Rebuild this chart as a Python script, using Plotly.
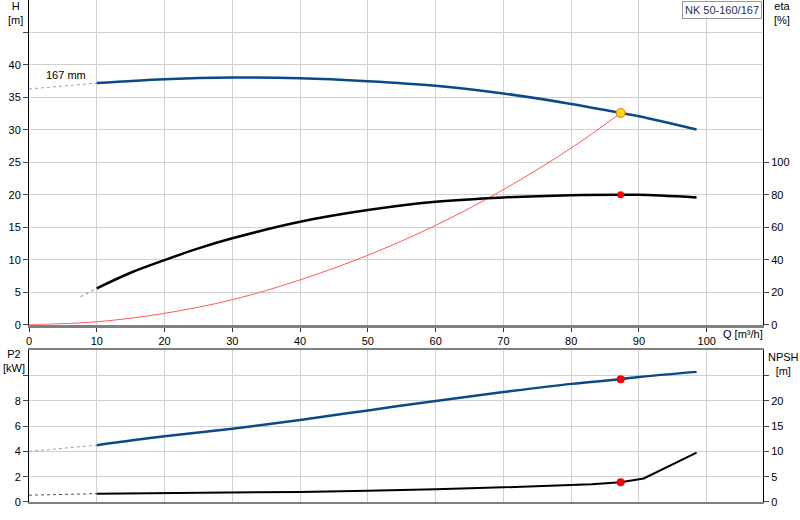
import plotly.graph_objects as go

# Q-H curve, 167 mm impeller
q_head = [10, 20, 30, 40, 50, 60, 70, 80, 87.3, 90, 98.5]
head = [37.2, 37.8, 38.05, 37.95, 37.5, 36.8, 35.6, 34.0, 32.6, 32.1, 30.05]
q_head_ext = [0, 10]
head_ext = [36.3, 37.2]

# efficiency
q_eta = [10, 15, 20, 25, 30, 40, 50, 60, 70, 80, 87.3, 90, 98.5]
eta = [22.4, 32.0, 39.8, 47.0, 53.2, 63.4, 70.6, 75.7, 78.4, 79.8, 80.1, 80.0, 78.4]
q_eta_ext = [7.6, 10]
eta_ext = [17.2, 22.4]

# system curve up to duty point
q_sys = [0, 10, 20, 30, 40, 50, 60, 70, 80, 87.3]
h_sys = [0, 0.45, 1.75, 3.85, 6.9, 10.7, 15.3, 20.8, 27.2, 32.6]

# power P2
q_p2 = [10, 20, 30, 40, 50, 60, 70, 80, 87.3, 90, 98.5]
p2 = [4.5, 5.2, 5.8, 6.5, 7.25, 8.0, 8.7, 9.35, 9.72, 9.9, 10.3]
q_p2_ext = [0, 10]
p2_ext = [4.0, 4.5]

# NPSH
q_npsh = [10, 20, 30, 40, 50, 60, 70, 80, 83, 87.3, 90.7, 98.5]
npsh = [1.65, 1.75, 1.85, 2.0, 2.25, 2.5, 2.9, 3.25, 3.5, 3.9, 4.65, 9.75]
q_npsh_ext = [0, 10]
npsh_ext = [1.35, 1.65]

duty_q = 87.3
duty_h = 32.6
duty_eta = 80.1
duty_p2 = 9.72
duty_npsh = 3.9

blue = "#0a4a8a"
font = "Liberation Sans"

fig = go.Figure()

# top: head + system curve
fig.add_trace(go.Scatter(x=q_head_ext, y=head_ext, mode="lines",
                         line=dict(color="#8aa4c4", width=1, dash="dot"), xaxis="x", yaxis="y"))
fig.add_trace(go.Scatter(x=q_head, y=head, mode="lines", line=dict(color=blue, width=2.5, shape="spline"),
                         xaxis="x", yaxis="y"))
fig.add_trace(go.Scatter(x=q_sys, y=h_sys, mode="lines", line=dict(color="#ff5a5a", width=1, shape="spline"),
                         xaxis="x", yaxis="y"))

# efficiency on right axis
fig.add_trace(go.Scatter(x=q_eta_ext, y=eta_ext, mode="lines",
                         line=dict(color="#888888", width=1, dash="dot"), xaxis="x", yaxis="y2"))
fig.add_trace(go.Scatter(x=q_eta, y=eta, mode="lines", line=dict(color="black", width=2.5, shape="spline"),
                         xaxis="x", yaxis="y2"))
fig.add_trace(go.Scatter(x=[duty_q], y=[duty_eta], mode="markers",
                         marker=dict(color="#ff0000", size=7), xaxis="x", yaxis="y2"))
fig.add_trace(go.Scatter(x=[duty_q], y=[duty_h], mode="markers",
                         marker=dict(color="#ffe000", size=9, line=dict(color="#ff6020", width=1)),
                         xaxis="x", yaxis="y"))

# bottom: P2 and NPSH
fig.add_trace(go.Scatter(x=q_p2_ext, y=p2_ext, mode="lines",
                         line=dict(color="#8aa4c4", width=1, dash="dot"), xaxis="x2", yaxis="y3"))
fig.add_trace(go.Scatter(x=q_p2, y=p2, mode="lines", line=dict(color=blue, width=2.5, shape="spline"),
                         xaxis="x2", yaxis="y3"))
fig.add_trace(go.Scatter(x=[duty_q], y=[duty_p2], mode="markers",
                         marker=dict(color="#ff0000", size=8), xaxis="x2", yaxis="y3"))
fig.add_trace(go.Scatter(x=q_npsh_ext, y=npsh_ext, mode="lines",
                         line=dict(color="#555555", width=1, dash="dot"), xaxis="x2", yaxis="y4"))
fig.add_trace(go.Scatter(x=q_npsh, y=npsh, mode="lines", line=dict(color="black", width=2),
                         xaxis="x2", yaxis="y4"))
fig.add_trace(go.Scatter(x=[duty_q], y=[duty_npsh], mode="markers",
                         marker=dict(color="#ff0000", size=8), xaxis="x2", yaxis="y4"))

grid = "#d0d0d0"
top_dom = [0.3532, 1.0]
bot_dom = [0.0, 0.302]

fig.update_layout(
    width=800, height=520,
    margin=dict(l=29, r=37, t=0, b=18),
    paper_bgcolor="white", plot_bgcolor="white",
    showlegend=False,
    font=dict(family=font, size=11, color="black"),
    xaxis=dict(domain=[0, 1], range=[0, 108.3], anchor="y",
               tickvals=list(range(0, 101, 10)), showgrid=True, gridcolor=grid, gridwidth=1,
               showline=True, linecolor="#808080", linewidth=3, ticks="outside", ticklen=4,
               tickcolor="#333333", zeroline=False),
    xaxis2=dict(domain=[0, 1], range=[0, 108.3], anchor="y3", matches="x",
                tickvals=list(range(0, 101, 10)), showgrid=True, gridcolor=grid, gridwidth=1,
                showline=True, linecolor="#808080", linewidth=2, mirror=True,
                showticklabels=False, ticks="", zeroline=False),
    yaxis=dict(domain=top_dom, range=[0, 50], anchor="x",
               tickvals=list(range(0, 46, 5)),
               ticktext=[str(v) for v in range(0, 41, 5)] + [""],
               showgrid=True, gridcolor=grid, gridwidth=1,
               showline=True, linecolor="black", linewidth=1, ticks="outside", ticklen=5,
               zeroline=False),
    yaxis2=dict(range=[0, 200], overlaying="y", side="right", anchor="x",
                tickvals=list(range(0, 101, 20)), showgrid=False,
                showline=True, linecolor="black", linewidth=1, ticks="outside", ticklen=5,
                zeroline=False),
    yaxis3=dict(domain=bot_dom, range=[0, 12], anchor="x2",
                tickvals=list(range(0, 11, 2)),
                ticktext=["0", "2", "4", "6", "8", ""],
                showgrid=True, gridcolor=grid, gridwidth=1,
                showline=True, linecolor="black", linewidth=1, ticks="outside", ticklen=5,
                zeroline=False),
    yaxis4=dict(range=[0, 30], overlaying="y3", side="right", anchor="x2",
                tickvals=list(range(0, 26, 5)),
                ticktext=["0", "5", "10", "15", "20", ""],
                showgrid=False,
                showline=True, linecolor="black", linewidth=1, ticks="outside", ticklen=5,
                zeroline=False),
)

annots = [
    dict(text="H<br>[m]", x=-0.019, y=1.004, xanchor="center", yanchor="top"),
    dict(text="eta<br>[%]", x=1.026, y=1.004, xanchor="center", yanchor="top"),
    dict(text="P2<br>[kW]", x=-0.021, y=0.31, xanchor="center", yanchor="top"),
    dict(text="NPSH<br>[m]", x=1.028, y=0.305, xanchor="center", yanchor="top"),
    dict(text="Q [m³/h]", x=0.943, y=0.335, xanchor="left", yanchor="middle"),
]
for a in annots:
    fig.add_annotation(xref="paper", yref="paper", showarrow=False,
                       font=dict(family=font, size=11, color="black"), **a)

fig.add_annotation(text="167 mm", xref="x", yref="y", x=5.5, y=38.5, showarrow=False,
                   font=dict(family=font, size=11, color="black"))
fig.add_annotation(text="NK 50-160/167", xref="paper", yref="paper", x=0.998, y=0.998,
                   xanchor="right", yanchor="top", showarrow=False,
                   bgcolor="white", bordercolor="#999999", borderwidth=1, borderpad=2,
                   font=dict(family=font, size=11, color="#1c2f5c"))

# page body has an 8px default margin; drop it so the chart sits at the window corner
fig.write_html("out.html", config={"displayModeBar": False},
               post_script="document.body.style.margin='0';")
